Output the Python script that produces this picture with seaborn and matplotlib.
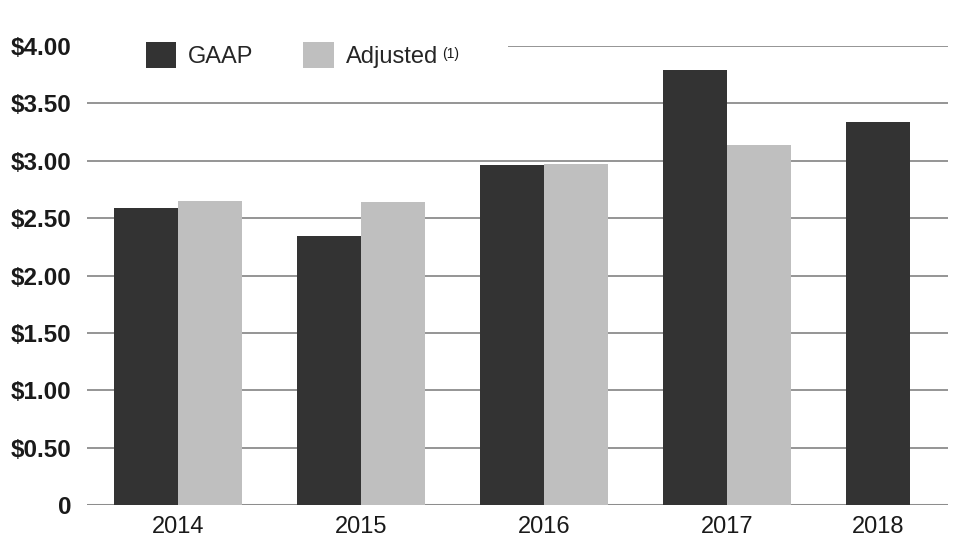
import numpy as np
import pandas as pd
import matplotlib
matplotlib.use("Agg")
import matplotlib.pyplot as plt
import seaborn as sns
from matplotlib.patches import Patch, Rectangle

# EPS values
years = ["2014", "2015", "2016", "2017", "2018"]
gaap = [2.59, 2.34, 2.96, 3.79, 3.34]
adjusted = [2.65, 2.64, 2.97, 3.14, np.nan]
y_ticks = [0, 0.5, 1.0, 1.5, 2.0, 2.5, 3.0, 3.5, 4.0]
y_labels = ["0", "$0.50", "$1.00", "$1.50", "$2.00", "$2.50", "$3.00", "$3.50", "$4.00"]

dark = "#333333"
light = "#bfbfbf"

# long format for seaborn, drop the missing 2018 adjusted value
df = pd.DataFrame({
    "year": years * 2,
    "eps": gaap + adjusted,
    "kind": ["GAAP"] * len(years) + ["Adjusted"] * len(years),
}).dropna()

sns.set_style("white")
plt.rcParams["font.family"] = ["Liberation Sans", "DejaVu Sans"]

fig = plt.figure(figsize=(9.58, 5.6), dpi=100)
ax = fig.add_axes([0.0908, 0.098, 0.8988, 0.820])

sns.barplot(data=df, x="year", y="eps", hue="kind", order=years,
            hue_order=["GAAP", "Adjusted"], palette=[dark, light],
            width=0.7, saturation=1, edgecolor="none", linewidth=0,
            legend=False, ax=ax)

ax.set_ylim(0, 4)
ax.set_xlim(-0.5, 4.21)
ax.set_yticks(y_ticks)
ax.set_yticklabels(y_labels, fontsize=17.5, fontweight="bold", color="#1a1a1a")
ax.set_axisbelow(True)
ax.yaxis.grid(True, color="#8c8c8c", linewidth=1.3)
ax.xaxis.grid(False)
for s in ax.spines.values():
    s.set_visible(False)
ax.axhline(0, color="#9a9a9a", linewidth=2.2, zorder=0.5)
ax.tick_params(axis="y", length=0, pad=11)
ax.tick_params(axis="x", length=0, pad=8)

# 2018 has only one bar: center its label under it
last = [p for p in ax.patches if p.get_height() > 0 and p.get_x() > 3.5][0]
xt = [0, 1, 2, 3, last.get_x() + last.get_width() / 2]
ax.set_xticks(xt)
ax.set_xticklabels(years, fontsize=17, color="#1a1a1a")
ax.set_xlabel("")
ax.set_ylabel("")

# white band hiding the top gridline behind the legend
ax.add_patch(Rectangle((0, 0.96), 0.489, 0.08, transform=ax.transAxes,
                       facecolor="white", edgecolor="none", zorder=1.5,
                       clip_on=False))

handles = [Patch(facecolor=dark, edgecolor="none"),
           Patch(facecolor=light, edgecolor="none")]
leg = ax.legend(handles, ["GAAP", "Adjusted"], ncol=2,
                loc="center left", bbox_to_anchor=(0.057, 0.98),
                fontsize=17, frameon=False, handlelength=1.3,
                handleheight=1.3, handletextpad=0.5, columnspacing=2.1,
                borderpad=0.4, borderaxespad=0)
leg.set_zorder(3)

# small footnote marker after "Adjusted"
fig.canvas.draw()
t = leg.get_texts()[1]
bb = t.get_window_extent()
fx = (bb.x1 + 4) / fig.bbox.width
fy = (560 - 54) / fig.bbox.height
fig.text(fx, fy, "(1)", fontsize=10, color="#1a1a1a", ha="left", va="center")

fig.savefig("out.png", dpi=100)
